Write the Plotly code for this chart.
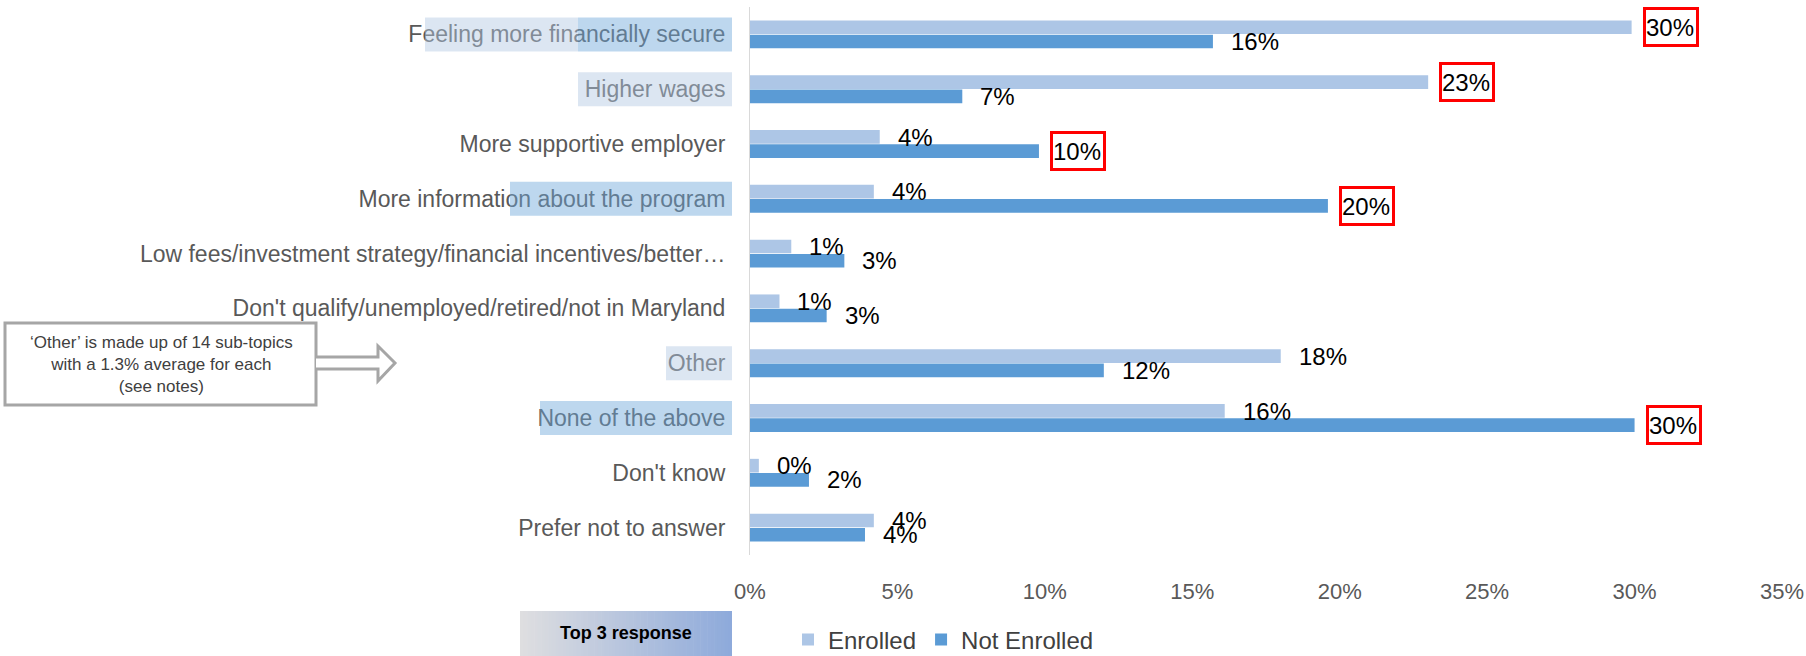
import plotly.graph_objects as go

# ---- data ----
categories = [
    "Feeling more financially secure",
    "Higher wages",
    "More supportive employer",
    "More information about the program",
    "Low fees/investment strategy/financial incentives/better\u2026",
    "Don't qualify/unemployed/retired/not in Maryland",
    "Other",
    "None of the above",
    "Don't know",
    "Prefer not to answer",
]
enrolled = [29.9, 23.0, 4.4, 4.2, 1.4, 1.0, 18.0, 16.1, 0.3, 4.2]
not_enrolled = [15.7, 7.2, 9.8, 19.6, 3.2, 2.6, 12.0, 30.0, 2.0, 3.9]
# values flagged as a "Top 3 response"
top3_enrolled = [True, True, False, False, False, False, False, False, False, False]
top3_not_enrolled = [False, False, True, True, False, False, False, True, False, False]
x_ticks = [0, 5, 10, 15, 20, 25, 30, 35]
x_tick_labels = ["0%", "5%", "10%", "15%", "20%", "25%", "30%", "35%"]
series_names = ["Enrolled", "Not Enrolled"]
callout_lines = ["\u2018Other\u2019 is made up of 14 sub-topics", "with a 1.3% average for each", "(see notes)"]

# ---- layout geometry (pixels) ----
FIG_W, FIG_H = 1806, 656
L, T, W, H = 750, 7, 1032, 548


def px(x):
    return (x - L) / W


def py(y):
    return (T + H - y) / H


C_ENR = "#ADC6E6"
C_NOT = "#5B9BD5"
TXT_GRAY = "#595959"
FONT = "Liberation Sans, Arial"

fig = go.Figure()
fig.add_trace(go.Bar(y=categories, x=enrolled, orientation="h", name=series_names[0],
                     marker=dict(color=C_ENR, line=dict(width=0))))
fig.add_trace(go.Bar(y=categories, x=not_enrolled, orientation="h", name=series_names[1],
                     marker=dict(color=C_NOT, line=dict(width=0))))

annotations = []
# value labels, boxed in red when flagged
for vals, flags, dy in ((enrolled, top3_enrolled, 7), (not_enrolled, top3_not_enrolled, -7)):
    for cat, v, f in zip(categories, vals, flags):
        a = dict(x=v, y=cat, xref="x", yref="y", text=f"{v:.0f}%", showarrow=False,
                 xanchor="left", yanchor="middle", yshift=dy,
                 font=dict(family=FONT, size=24, color="#000000"))
        if f:
            a.update(xshift=11, bordercolor="#FF0000", borderwidth=3, borderpad=0,
                     width=50, height=34, align="left", valign="middle",
                     bgcolor="rgba(255,255,255,0)")
        else:
            a.update(xshift=16)
        annotations.append(a)

# callout text
annotations.append(dict(x=px(161), y=py(364), xref="paper", yref="paper", showarrow=False,
                        xanchor="center", yanchor="middle",
                        text="<br>".join(callout_lines), align="center",
                        font=dict(family=FONT, size=17, color="#404040")))
# "Top 3 response" key
annotations.append(dict(x=px(626), y=py(633), xref="paper", yref="paper", showarrow=False,
                        xanchor="center", yanchor="middle",
                        text="<b>Top 3 response</b>",
                        font=dict(family=FONT, size=18, color="#000000")))

shapes = []
# highlight boxes over selected category labels
LIGHT = "rgba(177,199,226,0.45)"
DARK = "rgba(108,166,217,0.45)"
highlights = [(0, 425, 578, LIGHT), (0, 578, 732, DARK), (1, 578, 732, LIGHT),
              (3, 510, 732, DARK), (6, 666, 732, LIGHT), (7, 540, 732, DARK)]
for idx, x0, x1, col in highlights:
    cy = T + H / len(categories) * (idx + 0.5)
    shapes.append(dict(type="rect", xref="paper", yref="paper", x0=px(x0), x1=px(x1),
                       y0=py(cy + 17), y1=py(cy - 17), fillcolor=col, line=dict(width=0),
                       layer="above"))

# callout box with block arrow
shapes.append(dict(type="rect", xref="paper", yref="paper", x0=px(5), x1=px(316),
                   y0=py(405), y1=py(323), fillcolor="white",
                   line=dict(color="#A6A6A6", width=3), layer="below"))
arrow_pts = [(316, 357), (378, 357), (378, 346), (395, 363), (378, 381), (378, 369), (316, 369)]
path = "M" + " L".join(f"{px(a):.5f},{py(b):.5f}" for a, b in arrow_pts)
shapes.append(dict(type="path", xref="paper", yref="paper", path=path,
                   fillcolor="white", line=dict(color="#A6A6A6", width=3), layer="below"))

# gradient key box (grey -> blue)
n_strips = 60
bx0, bx1, by0, by1 = 520, 732, 611, 660
c0 = (222, 222, 224)
c1 = (142, 170, 219)
for i in range(n_strips):
    t = i / (n_strips - 1)
    col = tuple(round(c0[k] + (c1[k] - c0[k]) * t) for k in range(3))
    xa = bx0 + (bx1 - bx0) * i / n_strips
    xb = bx0 + (bx1 - bx0) * (i + 1) / n_strips + 0.6
    shapes.append(dict(type="rect", xref="paper", yref="paper", x0=px(xa), x1=px(min(xb, bx1)),
                       y0=py(by1), y1=py(by0), fillcolor=f"rgb{col}", line=dict(width=0),
                       layer="below"))

fig.update_layout(
    width=FIG_W, height=FIG_H,
    margin=dict(l=L, r=FIG_W - L - W, t=T, b=FIG_H - T - H, pad=0, autoexpand=False),
    paper_bgcolor="white", plot_bgcolor="white",
    barmode="group", bargap=0.48, bargroupgap=0.04,
    font=dict(family=FONT, color=TXT_GRAY),
    xaxis=dict(range=[0, 35], tickmode="array", tickvals=x_ticks, ticktext=x_tick_labels,
               showgrid=False, zeroline=False,
               showline=False, ticks="outside", ticklen=17, tickcolor="rgba(0,0,0,0)",
               tickfont=dict(size=22, color=TXT_GRAY), fixedrange=True),
    yaxis=dict(autorange="reversed", showgrid=False, zeroline=False, showline=True,
               linecolor="#D9D9D9", linewidth=1, ticks="outside", ticklen=19,
               tickcolor="rgba(0,0,0,0)", tickfont=dict(size=23, color=TXT_GRAY)),
    legend=dict(orientation="h", x=px(788), y=py(640), xanchor="left", yanchor="middle",
                font=dict(size=24, color="#404040"), bgcolor="rgba(0,0,0,0)"),
    showlegend=True,
    annotations=annotations,
    shapes=shapes,
)

fig.write_html("out.html")
